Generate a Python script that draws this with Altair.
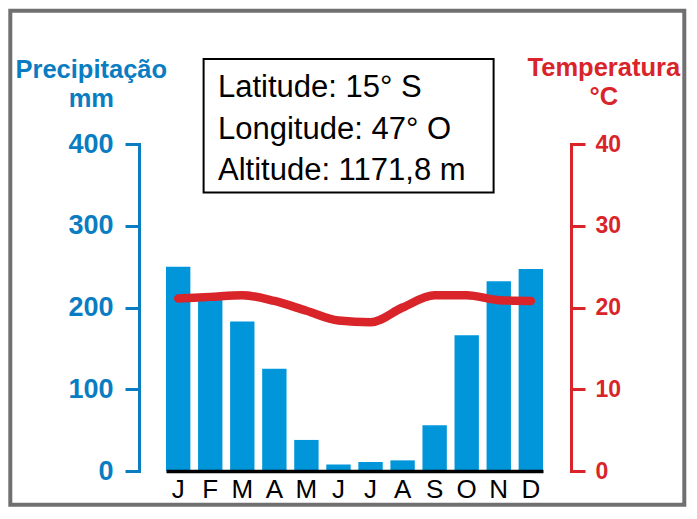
import altair as alt
import pandas as pd

# ---- data ----
months = ["Jan", "Fev", "Mar", "Abr", "Mai", "Jun", "Jul", "Ago", "Set", "Out", "Nov", "Dez"]
month_letters = ["J", "F", "M", "A", "M", "J", "J", "A", "S", "O", "N", "D"]
precip = [250, 216, 183, 125, 38, 8, 11, 13, 56, 166, 232, 247]
temp = [21.1, 21.3, 21.5, 20.8, 19.6, 18.4, 18.2, 20.0, 21.5, 21.5, 20.9, 20.8]
precip_ticks = [0, 100, 200, 300, 400]
temp_ticks = [0, 10, 20, 30, 40]
info_lines = ["Latitude: 15° S", "Longitude: 47° O", "Altitude: 1171,8 m"]

df = pd.DataFrame({"mes": months, "precip": precip, "temp": temp})

BLUE_AXIS = "#0a7dc2"
BLUE_BAR = "#0096d9"
RED = "#d9252a"
GRAY = "#707070"
FONT = "Liberation Sans"
W, H = 377, 327

label_expr = (
    "[" + ",".join(f"'{l}'" for l in month_letters) + "]"
    + "[indexof([" + ",".join(f"'{m}'" for m in months) + "], datum.value)]"
)

x_enc = alt.X(
    "mes:N",
    sort=months,
    scale=alt.Scale(paddingInner=0.24, paddingOuter=0),
    axis=alt.Axis(
        title=None, labelExpr=label_expr, ticks=False, domainColor="black",
        domainWidth=3.5, labelFont=FONT, labelFontSize=26, labelColor="black",
        labelPadding=5, labelAngle=0, labelBaseline="top", zindex=1,
    ),
)

bars = alt.Chart(df).mark_bar(color=BLUE_BAR).encode(
    x=x_enc,
    y=alt.Y(
        "precip:Q",
        scale=alt.Scale(domain=[0, 400], nice=False),
        axis=alt.Axis(
            title=None, values=precip_ticks, orient="left", offset=27,
            domainColor=BLUE_AXIS, domainWidth=3, domainCap="square",
            tickColor=BLUE_AXIS, tickWidth=3, tickSize=14,
            labelColor=BLUE_AXIS, labelFont=FONT, labelFontWeight="bold",
            labelFontSize=27, labelPadding=12, grid=False,
        ),
    ),
)

line = alt.Chart(df).mark_line(
    color=RED, strokeWidth=8.5, strokeCap="round", strokeJoin="round",
    interpolate="monotone",
).encode(
    x=alt.X("mes:N", sort=months),
    y=alt.Y(
        "temp:Q",
        scale=alt.Scale(domain=[0, 40], nice=False),
        axis=alt.Axis(
            title=None, values=temp_ticks, orient="right", offset=28,
            domainColor=RED, domainWidth=3, domainCap="square",
            tickColor=RED, tickWidth=3, tickSize=14,
            labelColor=RED, labelFont=FONT, labelFontWeight="bold",
            labelFontSize=23, labelPadding=10, grid=False,
        ),
    ),
)

one = alt.Data(values=[{"k": 1}])


def txt(s, x, y, size, color, weight="normal", align="left"):
    return alt.Chart(one).mark_text(
        text=s, font=FONT, fontSize=size, fontWeight=weight, color=color,
        align=align, baseline="alphabetic",
    ).encode(x=alt.value(x), y=alt.value(y))


titles = [
    txt("Precipitação", -74.7, -66, 25.5, BLUE_AXIS, "bold", "center"),
    txt("mm", -74.7, -37.5, 25.5, BLUE_AXIS, "bold", "center"),
    txt("Temperatura", 437.8, -68, 25.5, RED, "bold", "center"),
    txt("°C", 437.8, -39.5, 25.5, RED, "bold", "center"),
]

box = alt.Chart(one).mark_rect(fillOpacity=0, stroke="black", strokeWidth=2).encode(
    x=alt.value(37.6), x2=alt.value(327.6), y=alt.value(-85), y2=alt.value(48.4)
)
info = [txt(s, 52, yb, 31, "black") for s, yb in zip(info_lines, [-46.6, -5.5, 35.5])]

frame = alt.Chart(one).mark_rect(fillOpacity=0, stroke=GRAY, strokeWidth=4).encode(
    x=alt.value(-155.7), x2=alt.value(518.3), y=alt.value(-133.3), y2=alt.value(360.7)
)

chart = alt.layer(bars, line, box, *info, *titles, frame).resolve_scale(
    y="independent"
).properties(
    width=W, height=H, padding=0
).configure_view(strokeOpacity=0)

chart.save("out.html", embed_options={"renderer": "svg", "actions": False})
